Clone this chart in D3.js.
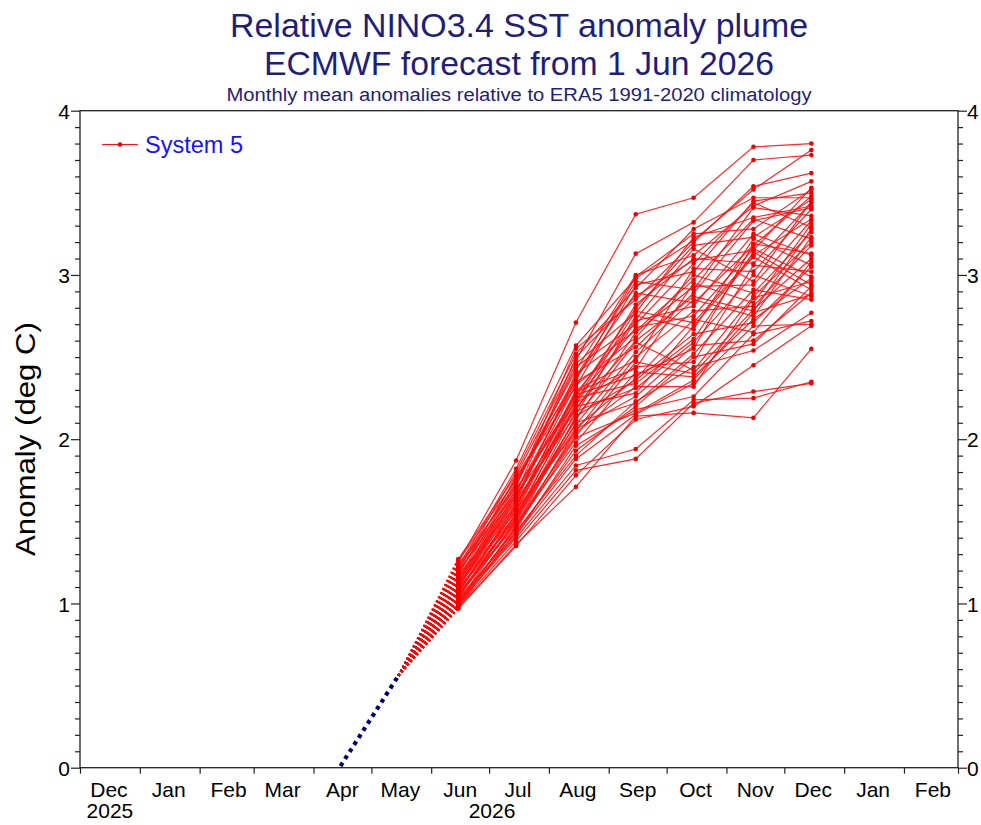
<!DOCTYPE html>
<html><head><meta charset="utf-8">
<script src="https://cdn.jsdelivr.net/npm/d3@7"></script>
<style>body{margin:0;background:#fff} svg{display:block}</style>
</head><body>
<svg id="c" width="981" height="825"></svg>
<script>
// ---- data ----
const forecastMonths = ["2026-06","2026-07","2026-08","2026-09","2026-10","2026-11","2026-12"];
const jun = [1.25,1.27,1.22,1.26,1.20,1.24,1.17,1.21,1.18,1.23, 1.15,1.19,1.13,1.20,1.12,1.17,1.15,1.10,1.16,1.13, 1.09,1.14,1.11,1.07,1.12,1.10,1.06,1.11,1.08,1.04, 1.09,1.07,1.03,1.08,1.05,1.01,1.06,1.04,1.00,1.05, 1.02,0.99,1.03,1.01,0.98,1.02,0.99,1.00,0.98,0.97, 0.97];
const jul = [1.87,1.78,1.82,1.75,1.80,1.71,1.77,1.73,1.76,1.67, 1.74,1.69,1.72,1.65,1.70,1.62,1.66,1.68,1.60,1.64, 1.66,1.58,1.63,1.59,1.56,1.61,1.60,1.54,1.57,1.55, 1.52,1.57,1.54,1.51,1.53,1.51,1.49,1.50,1.47,1.48, 1.45,1.47,1.43,1.46,1.44,1.41,1.42,1.40,1.38,1.36, 1.35];
const aug = [2.71,2.48,2.57,2.42,2.52,2.55,2.36,2.46,2.32,2.50, 2.38,2.26,2.44,2.37,2.23,2.40,2.28,2.35,2.21,2.33, 2.18,2.30,2.15,2.29,2.24,2.19,2.27,2.12,2.25,2.09, 2.22,2.05,2.20,2.13,2.07,2.17,2.02,2.10,2.14,1.98, 2.06,2.04,1.93,2.01,1.90,1.96,1.88,1.84,1.81,1.71, 1.78];
const sep = [3.37,3.13,2.98,3.00,2.92,2.85,2.99,2.77,2.94,2.87, 2.96,2.80,2.70,2.89,2.82,2.66,2.73,2.56,2.78,2.62, 2.72,2.48,2.75,2.43,2.68,2.60,2.39,2.65,2.34,2.53, 2.44,2.50,2.28,2.59,2.37,2.31,2.47,2.22,2.36,2.41, 2.26,2.32,2.20,2.16,2.23,2.18,2.15,1.94,1.88,2.14, 2.12];
const oct = [3.47,3.32,3.21,3.12,3.28,3.20,3.25,3.23,3.02,3.09, 2.91,3.18,3.07,2.83,3.10,2.97,3.16,2.89,2.71,3.00, 2.81,3.04,2.67,2.95,2.75,2.87,2.55,2.93,2.61,2.85, 2.47,2.78,2.69,2.42,2.73,2.59,2.40,2.52,2.64,2.38, 2.57,2.32,2.50,2.36,2.44,2.26,2.34,2.24,2.22,2.16, 2.20];
const nov = [3.78,3.70,3.52,3.42,3.47,3.54,3.28,3.35,3.45,3.15, 3.41,3.23,3.44,3.18,3.07,3.34,2.96,3.33,3.12,2.89, 3.25,3.02,3.22,2.83,3.16,2.78,3.19,2.94,3.14,2.75, 3.06,2.81,3.11,2.87,2.65,3.00,2.79,2.91,2.71,2.73, 2.60,2.86,2.58,2.77,2.54,2.64,2.69,2.25,2.29,2.13, 2.45];
const dec = [3.80,3.73,3.76,3.57,3.47,3.62,3.52,3.42,3.50,3.53, 3.36,3.46,3.29,3.48,3.44,3.22,3.45,3.41,3.34,3.26, 3.12,3.40,3.06,3.31,2.99,3.28,3.13,3.33,2.94,3.23, 3.02,3.18,2.91,3.20,3.08,2.87,3.10,2.85,3.05,2.98, 2.89,2.96,2.93,2.88,2.77,2.72,2.70,2.35,2.34,2.55, 2.69];
const obsMonths = ["2026-04","2026-05"];
const obsValues = [0.01, 0.56];
const monthLabels = ["Dec","Jan","Feb","Mar","Apr","May","Jun","Jul","Aug","Sep","Oct","Nov","Dec","Jan","Feb"];
const yearLabels = ["2025","2026"];
const yTickValues = [0,1,2,3,4];
const titleLines = ["Relative NINO3.4 SST anomaly plume","ECMWF forecast from 1 Jun 2026"];
const subtitle = "Monthly mean anomalies relative to ERA5 1991-2020 climatology";
const yLabel = "Anomaly (deg C)";
const legendLabel = "System 5";

// ---- setup ----
const svg = d3.select("#c");
const parseM = d3.timeParse("%Y-%m");
const mid = m => d3.timeDay.offset(parseM(m), 14);
const start = new Date(2025,11,1), end = new Date(2027,2,1);
const L = 80, R = 958, T = 110.7, B = 767.7;
const x = d3.scaleTime().domain([start,end]).range([L,R]);
const y = d3.scaleLinear().domain([0,4]).range([B,T]);
const SFONT = "'Liberation Sans',Arial,Helvetica,sans-serif";
const navyTitle = "#1f1f7a";

// titles
const tl = [{t:titleLines[0], y:37, s:33, w:578},{t:titleLines[1], y:75, s:33, w:510},{t:subtitle, y:101, s:18, w:585}];
svg.selectAll("text.title").data(tl).join("text").attr("class","title")
  .attr("x",519).attr("y",d=>d.y).attr("text-anchor","middle")
  .attr("font-family",SFONT).attr("font-size",d=>d.s).attr("fill",navyTitle)
  .attr("textLength",d=>d.w).attr("lengthAdjust","spacingAndGlyphs").text(d=>d.t);

// y label
svg.append("text").attr("transform","translate(35,439) rotate(-90)")
  .attr("text-anchor","middle").attr("font-family",SFONT).attr("font-size",28)
  .attr("textLength",234).attr("lengthAdjust","spacingAndGlyphs").attr("fill","#000").text(yLabel);

// axes
const minorVals = d3.range(0,40).map(i=>i/10).filter(v=>Math.abs(v-Math.round(v))>1e-6);
function yAxes(gen, xpos){
  const g = svg.append("g").attr("transform",`translate(${xpos},0)`);
  g.call(gen(y).tickValues(minorVals).tickSize(5).tickFormat(""));
  const g2 = svg.append("g").attr("transform",`translate(${xpos},0)`);
  g2.call(gen(y).tickValues(yTickValues).tickSize(9).tickFormat(d3.format("d")));
  [g,g2].forEach(a=>{a.select(".domain").remove(); a.selectAll("line").attr("stroke","#222").attr("stroke-width",1.2);});
  g2.selectAll("text").attr("font-family",SFONT).attr("font-size",21).attr("fill","#000").attr("dy","0.36em");
  return g2;
}
const ly = yAxes(d3.axisLeft, L); ly.selectAll("text").attr("x",-10);
const ry = yAxes(d3.axisRight, R); ry.selectAll("text").attr("x",9);

const monthStarts = d3.timeMonth.range(start, d3.timeDay.offset(end,1));
const bx = svg.append("g").attr("transform",`translate(0,${B})`)
  .call(d3.axisBottom(x).tickValues(monthStarts).tickSize(6).tickFormat("").tickSizeOuter(0));
bx.select(".domain").remove();
bx.selectAll("line").attr("stroke","#222").attr("stroke-width",1.2);

const mStarts = d3.timeMonth.range(start, end);
svg.selectAll("text.mon").data(monthLabels).join("text").attr("class","mon")
  .attr("x",(d,i)=>x(d3.timeDay.offset(mStarts[i],15))).attr("y",797)
  .attr("text-anchor","middle").attr("font-family",SFONT).attr("font-size",21).attr("fill","#000").text(d=>d);
svg.selectAll("text.yr").data(yearLabels).join("text").attr("class","yr")
  .attr("x",d=>{const a=d3.max([new Date(+d,0,1),start]); const b=d3.min([new Date(+d+1,0,1),end]); return x(new Date((+a + +b)/2));})
  .attr("y",818).attr("text-anchor","middle").attr("font-family",SFONT).attr("font-size",21).attr("fill","#000").text(d=>d);

// frame
svg.append("rect").attr("x",L).attr("y",T).attr("width",R-L).attr("height",B-T)
  .attr("fill","none").attr("stroke","#222").attr("stroke-width",1.3);

// data
const series = [jun,jul,aug,sep,oct,nov,dec];
const fDates = forecastMonths.map(mid);
const oDates = obsMonths.map(mid);
const line = d3.line().x(d=>x(d[0])).y(d=>y(d[1]));
const lastObs = [oDates[1], obsValues[1]];

// red dotted fan
svg.append("g").selectAll("path").data(jun).join("path")
  .attr("d",v=>line([lastObs,[fDates[0],v]]))
  .attr("fill","none").attr("stroke","#ff0000").attr("stroke-width",2).attr("stroke-dasharray","2,2.6");

// observed navy dotted
svg.append("path").attr("d",line(oDates.map((d,i)=>[d,obsValues[i]])))
  .attr("fill","none").attr("stroke","#000070").attr("stroke-width",4.2).attr("stroke-dasharray","4,4.4");

// members
const members = d3.range(jun.length).map(i=>fDates.map((d,k)=>[d,series[k][i]]));
const gm = svg.append("g");
gm.selectAll("path").data(members).join("path").attr("d",line)
  .attr("fill","none").attr("stroke","#ff1010").attr("stroke-width",1.2).attr("stroke-opacity",0.9);
gm.selectAll("circle").data(members.flat()).join("circle")
  .attr("cx",d=>x(d[0])).attr("cy",d=>y(d[1])).attr("r",2.3).attr("fill","#f00000");

// legend
svg.append("line").attr("x1",102).attr("x2",138).attr("y1",144.5).attr("y2",144.5).attr("stroke","#ff1010").attr("stroke-width",1.2);
svg.append("circle").attr("cx",120).attr("cy",144.5).attr("r",2.3).attr("fill","#f00000");
svg.append("text").attr("x",145).attr("y",153).attr("font-family",SFONT).attr("font-size",23)
  .attr("textLength",98).attr("lengthAdjust","spacingAndGlyphs").attr("fill","#1414ff").text(legendLabel);
</script>
</body></html>
